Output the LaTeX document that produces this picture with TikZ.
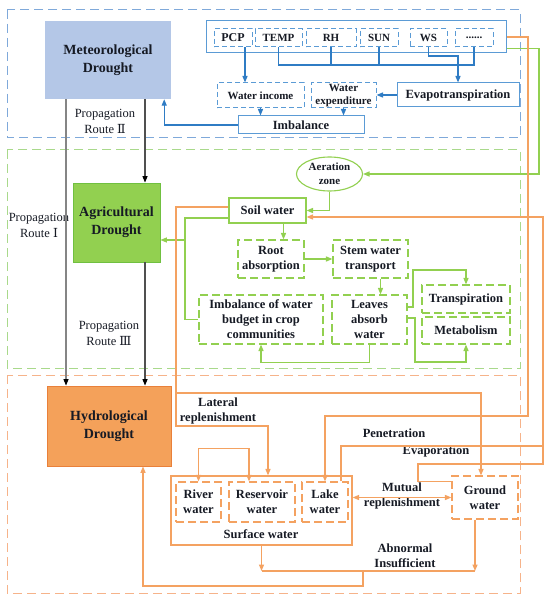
\documentclass[tikz,border=0pt]{standalone}
\usepackage{fontspec}
\setmainfont{Liberation Serif}
\newfontfamily\numfont{DejaVu Serif}
\usetikzlibrary{arrows.meta,shapes.geometric,calc}
\definecolor{txt}{HTML}{161A24}
\definecolor{blueC}{HTML}{2F7CC4}
\definecolor{blueB}{HTML}{5B9BD5}
\definecolor{blueO}{HTML}{7FA9DA}
\definecolor{metF}{HTML}{B4C7E7}
\definecolor{greenC}{HTML}{92D050}
\definecolor{greenO}{HTML}{A9D98B}
\definecolor{agriF}{HTML}{92D050}
\definecolor{agriB}{HTML}{70C040}
\definecolor{orangeC}{HTML}{F4A261}
\definecolor{orangeO}{HTML}{F6B38A}
\definecolor{hydF}{HTML}{F4A15A}
\definecolor{hydB}{HTML}{E9803A}
\definecolor{routeA}{HTML}{858585}
\definecolor{routeB}{HTML}{505050}
\begin{document}
\begin{tikzpicture}[x=1pt,y=-1pt,
  tip/.style={-{Triangle[length=6.5pt,width=5pt]}},
  both/.style={{Triangle[length=6.5pt,width=5pt]}-{Triangle[length=6.5pt,width=5pt]}},
  box/.style={align=center, inner sep=0pt, text=txt, font=\fontsize{12.5}{15}\selectfont\bfseries},
  small/.style={font=\fontsize{11}{13}\selectfont\bfseries},
  big/.style={font=\fontsize{14}{18}\selectfont\bfseries},
  lab/.style={align=center, inner sep=0pt, text=txt, font=\fontsize{12.5}{15}\selectfont\bfseries},
  routelab/.style={align=center, inner sep=0pt, text=txt, font=\fontsize{12.5}{16}\selectfont},
  bsolid/.style={box, draw=blueB, line width=1pt},
  bdash/.style={box, draw=blueB, line width=1pt, dash pattern=on 5pt off 3pt},
  gsolid/.style={box, draw=greenC, line width=1.1pt},
  gdash/.style={box, draw=greenC, line width=1.1pt, dash pattern=on 8pt off 4pt},
  osolid/.style={box, draw=orangeC, line width=1.1pt},
  odash/.style={box, draw=orangeC, line width=1.1pt, dash pattern=on 8pt off 4pt},
  outerb/.style={draw=blueO, line width=1pt, dash pattern=on 9pt off 5pt},
  outerg/.style={draw=greenO, line width=1pt, dash pattern=on 9pt off 5pt},
  outero/.style={draw=orangeO, line width=1pt, dash pattern=on 9pt off 5pt},
  bline/.style={draw=blueC, line width=1.3pt},
  barrow/.style={bline, tip},
  gline/.style={draw=greenC, line width=1.3pt},
  garrow/.style={gline, tip},
  oline/.style={draw=orangeC, line width=1.3pt},
  oarrow/.style={oline, tip},
  oboth/.style={oline, both},
  rarrowA/.style={draw=routeA, line width=1.1pt, -{Triangle[length=6.5pt,width=5pt,color=black]}},
  rarrowB/.style={draw=routeB, line width=1.1pt, -{Triangle[length=6.5pt,width=5pt,color=black]}}
]
\fill[white] (0,0) rectangle (550,601);
\useasboundingbox (0,0) rectangle (550,601);

% ---------- outer regions ----------
\draw[outerb] (7,10) rectangle (520,138);
\draw[outerg] (7,150) rectangle (520,368);
\draw[outero] (7,375) rectangle (520,593);

% ---------- meteorological part ----------
\node[box, big, fill=metF, minimum width=126pt, minimum height=78pt] (Met) at (108,60) {Meteorological\\Drought};
\node[bsolid, minimum width=300pt, minimum height=32pt] (Top) at (356,37) {};
\node[bdash, small, minimum width=38pt, minimum height=18pt] (PCP) at (233,38) {\fontsize{12}{13}\selectfont PCP};
\node[bdash, small, minimum width=47pt, minimum height=18pt] (TEMP) at (278.5,38) {TEMP};
\node[bdash, small, minimum width=50pt, minimum height=18pt] (RH) at (331,38) {RH};
\node[bdash, small, minimum width=38pt, minimum height=18pt] (SUN) at (379,38) {SUN};
\node[bdash, small, minimum width=37pt, minimum height=18pt] (WS) at (428.5,38) {WS};
\node[bdash, small, minimum width=38pt, minimum height=18pt] (Dots) at (474,38) {......};
\node[bdash, small, minimum width=87pt, minimum height=25pt] (WI) at (260.5,95.5) {Water income};
\node[bdash, small, minimum width=65pt, minimum height=25pt] (WE) at (343.5,95.5) {\fontsize{11}{14}\selectfont Water\\expenditure};
\node[bsolid, minimum width=122pt, minimum height=24pt] (Evap) at (458,95) {Evapotranspiration};
\node[bsolid, minimum width=126pt, minimum height=18pt] (Imb) at (301,125) {Imbalance};

\coordinate (brk) at (278,65);
\coordinate (wsk) at (428,56);
\draw[bline] (TEMP.south) -- (TEMP.south |- brk) -- (Dots.south |- brk) -- (Dots.south);
\draw[bline] (RH.south) -- (RH.south |- brk);
\draw[bline] (SUN.south) -- (SUN.south |- brk);
\draw[barrow] (WS.south) -- (WS.south |- wsk) -| (Evap.north);
\draw[barrow] ([xshift=12pt]PCP.south) -- ([xshift=12pt]PCP.south |- WI.north);
\draw[barrow] (Evap.west) -- (Evap.west -| WE.east);
\draw[barrow] (WI.south) -- (WI.south |- Imb.north);
\draw[barrow] (WE.south) -- (WE.south |- Imb.north);
\draw[barrow] (Imb.west) -| ([xshift=-7pt]Met.south east);

\node[routelab] (R2) at (105,121.5) {Propagation\\Route {\numfont Ⅱ}};

% ---------- agricultural part ----------
\node[box, big, fill=agriF, draw=agriB, line width=0.8pt, minimum width=87pt, minimum height=79pt] (Agri) at (116.5,222.5) {Agricultural\\Drought};
\node[gsolid, small, ellipse, minimum width=66pt, minimum height=34pt, font=\fontsize{11}{14}\selectfont\bfseries] (Aer) at (329.5,174) {Aeration\\zone};
\node[gsolid, minimum width=77pt, minimum height=25pt] (Soil) at (267.5,210.5) {Soil water};
\node[gdash, minimum width=66pt, minimum height=38pt] (Root) at (271,259) {Root\\absorption};
\node[gdash, minimum width=75pt, minimum height=38pt] (Stem) at (370.5,259) {Stem water\\transport};
\node[gdash, minimum width=124pt, minimum height=49pt] (Imb2) at (261,319.5) {Imbalance of water\\budget in crop\\communities};
\node[gdash, minimum width=75pt, minimum height=49pt] (Leaves) at (369.5,319.5) {Leaves\\absorb\\water};
\node[gdash, minimum width=88pt, minimum height=28pt] (Trans) at (466,299) {Transpiration};
\node[gdash, minimum width=88pt, minimum height=27pt] (Metab) at (466,330.5) {Metabolism};

\node[routelab] (R1) at (39,225) {Propagation\\Route {\numfont Ⅰ}};
\node[routelab] (R3) at (109,333.5) {Propagation\\Route {\numfont Ⅲ}};

\coordinate (gR) at (539,174);
\draw[garrow] ([yshift=5pt]Top.south east) -| (gR) -- (Aer.east);
\draw[garrow] (Aer.south) |- (Soil.east);
\draw[garrow] ([xshift=16pt]Soil.south) -- ([xshift=16pt]Soil.south |- Root.north);
\draw[garrow] (Root.east) -- (Root.east -| Stem.west);
\draw[garrow] ([xshift=10pt]Stem.south) -- ([xshift=10pt]Stem.south |- Leaves.north);
\coordinate (g1) at (185,240);
\draw[gline] ([yshift=-7.5pt]Soil.west) -| (g1) |- (Imb2.west);
\draw[garrow] (g1) -- (g1 -| Agri.east);
\draw[garrow] (Leaves.south) -- ++(0,18) -| (Imb2.south);
\coordinate (t1) at (413,270);
\coordinate (t2) at (415,362);
\draw[garrow] ([yshift=12.5pt]Leaves.east) -| (t1) -| (Trans.north);
\draw[garrow] ([yshift=1.5pt]Leaves.east) -| (t2) -| (Metab.south);

% ---------- hydrological part ----------
\node[box, big, fill=hydF, draw=hydB, line width=0.8pt, minimum width=124pt, minimum height=80pt] (Hyd) at (109,426) {Hydrological\\Drought};
\node[osolid, minimum width=181pt, minimum height=69pt] (Surf) at (261.5,510.5) {};
\node[lab] (SurfL) at (261,534) {Surface water};
\node[odash, minimum width=45pt, minimum height=40pt] (River) at (198.5,502) {River\\water};
\node[odash, minimum width=66pt, minimum height=40pt] (Res) at (262,502) {Reservoir\\water};
\node[odash, minimum width=46pt, minimum height=40pt] (Lake) at (325,502) {Lake\\water};
\node[odash, minimum width=66pt, minimum height=43pt] (GW) at (485,497.5) {Ground\\water};

\node[lab] (LatL) at (218,410.5) {Lateral\\replenishment};
\node[lab] (PenL) at (394,433) {Penetration};
\node[lab] (EvaL) at (436,451) {Evaporation};
\node[lab] (MutL) at (402,495.5) {Mutual\\replenishment};
\node[lab] (AbnL) at (405,556) {Abnormal\\Insufficient};

% routes
\coordinate (r1) at (66,0);
\coordinate (r2) at (145,0);
\draw[rarrowA] (r1 |- Met.south) -- (r1 |- Hyd.north);
\draw[rarrowB] (r2 |- Met.south) -- (r2 |- Agri.north);
\draw[rarrowB] (r2 |- Agri.south) -- (r2 |- Hyd.north);

% orange connectors
\coordinate (oR1) at (528,416);
\draw[oarrow] (Top.east) -| (oR1) -| (Lake.north);
\coordinate (l0) at (176,393);
\coordinate (l1) at (176,426);
\coordinate (l2) at (268,426);
\draw[oarrow] ([yshift=3.5pt]Soil.west) -| (l1) -- (l2) -- (l2 |- Surf.north);
\draw[oarrow] (l0) -| ([xshift=-4pt]GW.north);
\coordinate (e1) at (418,464);
\coordinate (e2) at (543,464);
\coordinate (pen) at (0,446);
\draw[oarrow] ([yshift=-6pt]GW.north west) -| (e1) -- (e2) |- ([yshift=-6.5pt]Soil.east);
\draw[oline] ([xshift=16pt]Lake.north) |- (e2 |- pen);
\draw[oboth] (River.north) -- ++(0,-33) -| ([xshift=-13pt]Res.north);
\draw[oboth] (GW.west -| Surf.east) -- (GW.west);
\coordinate (ab) at (0,571);
\coordinate (rt) at (363,586);
\draw[oarrow] (Surf.south) -- (Surf.south |- ab);
\draw[oarrow] ([xshift=-10pt]GW.south) -- ([xshift=-10pt]GW.south |- ab);
\draw[oline] (Surf.south |- ab) -- ([xshift=-10pt]GW.south |- ab);
\draw[oarrow] (rt |- ab) -- (rt) -| ([xshift=34pt]Hyd.south);
\end{tikzpicture}
\end{document}
